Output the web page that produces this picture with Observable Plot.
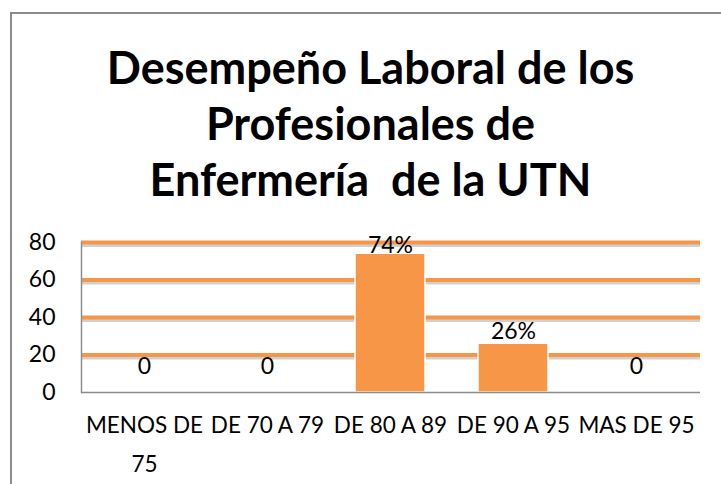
<!DOCTYPE html>
<html><head><meta charset="utf-8">
<script src="https://cdn.jsdelivr.net/npm/d3@7"></script>
<script src="https://cdn.jsdelivr.net/npm/@observablehq/plot@0.6"></script>
<style>
body{margin:0;background:#fff;overflow:hidden;}
#wrap{position:relative;width:721px;height:484px;overflow:hidden;background:#fff;}
#box{position:absolute;left:10px;top:12px;width:800px;height:600px;border:2px solid #8c8c8c;box-sizing:border-box;}
#title{position:absolute;left:10px;top:39px;width:721px;text-align:center;font-family:Lato,"Open Sans",sans-serif;font-weight:bold;font-size:45px;line-height:56px;color:#000;}
#chart{position:absolute;left:0;top:0;}
</style></head>
<body><div id="wrap"><div id="box"></div>
<div id="title">Desempeño Laboral de los<br>Profesionales de<br>Enfermería&nbsp; de la UTN</div>
<div id="chart"></div></div>
<script>
const categories = ["MENOS DE 75", "DE 70 A 79", "DE 80 A 89", "DE 90 A 95", "MAS DE 95"];
const tickLabels = ["MENOS DE\n75", "DE 70 A 79", "DE 80 A 89", "DE 90 A 95", "MAS DE 95"];
const values = [0, 0, 74, 26, 0];
const valueLabels = ["0", "0", "74%", "26%", "0"];
const yTicks = [0, 20, 40, 60, 80];
const gridValues = [20, 40, 60, 80];

const data = categories.map((c, i) => ({cat: c, v: values[i], lab: valueLabels[i], i}));
const labelOf = new Map(categories.map((c, i) => [c, tickLabels[i]]));
const orange = "#F79646";
const font = "Lato, 'Open Sans', sans-serif";
const labelOpts = {x: "cat", y: "v", text: "lab", fontSize: 23, fill: "#000", lineAnchor: "middle"};

const plot = Plot.plot({
  width: 721, height: 484,
  marginTop: 242, marginBottom: 92, marginLeft: 81, marginRight: 21,
  style: {fontFamily: font, fontSize: "22px", color: "#000", background: "transparent", overflow: "visible"},
  x: {domain: categories, paddingInner: 0.43, paddingOuter: 0.215, label: null},
  y: {domain: [0, 80], label: null},
  marks: [
    Plot.ruleY(gridValues, {stroke: "#777", strokeWidth: 3, strokeOpacity: 0.35, dy: 3}),
    Plot.ruleY(gridValues, {stroke: orange, strokeWidth: 4}),
    Plot.barY(data, {x: "cat", y: "v", fill: orange, stroke: "#fff", strokeWidth: 1.5}),
    Plot.ruleY([0], {stroke: "#8c8c8c", strokeWidth: 1.5}),
    Plot.frame({anchor: "left", stroke: "#8c8c8c", strokeWidth: 1.5}),
    Plot.text(data, {...labelOpts, dy: -8, filter: d => d.v > 50}),
    Plot.text(data, {...labelOpts, dy: -12, filter: d => d.v > 0 && d.v <= 50}),
    Plot.text(data, {...labelOpts, dy: -26, filter: d => d.v === 0}),
    Plot.axisY({ticks: yTicks, tickSize: 0, tickPadding: 26, fontSize: 23, fill: "#000"}),
    Plot.axisX({tickSize: 0, tickPadding: 14, fontSize: 22.5, fill: "#000", lineHeight: 1.69,
      tickFormat: d => labelOf.get(d)})
  ]
});
document.getElementById("chart").appendChild(plot);
</script></body></html>
